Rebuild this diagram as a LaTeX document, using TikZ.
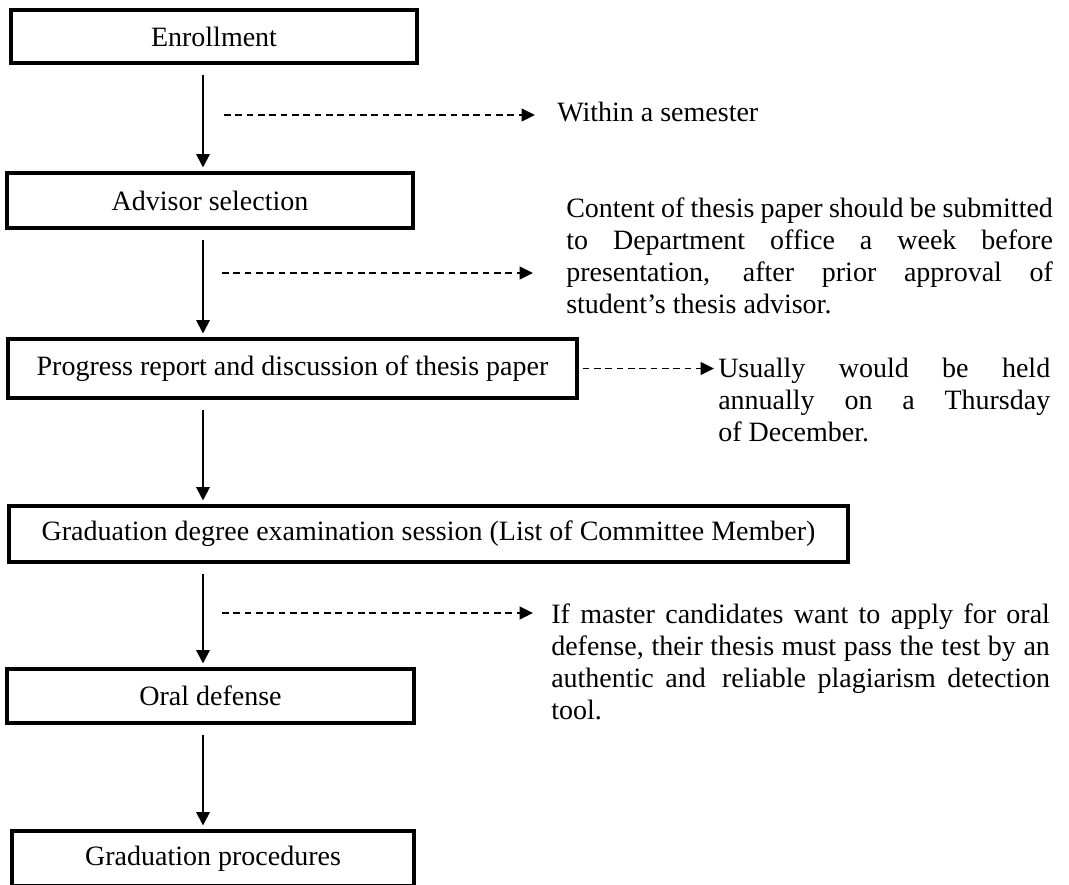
\documentclass[tikz,border=0pt]{standalone}
\usepackage{fontspec}
\setmainfont{Liberation Serif}
\usetikzlibrary{arrows.meta,calc}

\tikzset{
  stage/.style={draw, line width=2.3pt, inner sep=0pt, align=center},
  flow/.style={line width=1.5pt, -{Triangle[length=10pt,width=10pt]}},
  hint/.style={line width=1.4pt, dash pattern=on 5pt off 3.5pt, -{Triangle[length=10pt,width=9.5pt]}},
  remark/.style={inner sep=0pt, anchor=north west, align=justify},
}

\begin{document}
\begin{tikzpicture}[x=0.75pt, y=-0.75pt, font=\fontsize{21}{24}\selectfont]
\clip (0,0) rectangle (1069,884);
% the stages
\node[stage, minimum width=304.5pt, minimum height=39.75pt] (enroll) at (214,36.5) {Enrollment};
\node[stage, minimum width=304.5pt, minimum height=41.25pt] (advisor) at (210,200.5) {Advisor selection};
\node[stage, minimum width=426.75pt, minimum height=44.25pt] (progress) at (292.5,368.5) {Progress report and discussion of thesis paper};
\node[stage, minimum width=629.25pt, minimum height=42pt] (exam) at (428.5,534) {Graduation degree examination session (List of Committee Member)};
\node[stage, minimum width=305.25pt, minimum height=40.5pt] (oral) at (210.5,696) {Oral defense};
\node[stage, minimum width=301.5pt, minimum height=41.25pt] (finish) at (213,858.5) {Graduation procedures};
% notes on the right
\node[inner sep=0pt, anchor=base west] (within) at (557,122) {Within a semester};
\node[remark, text width=365pt] (content) at (566,194.6) {\strut Content of thesis paper should be submitted\linebreak to Department office a week before\linebreak presentation, after prior approval of\linebreak student's thesis advisor.};
\node[remark, text width=249pt] (usual) at (718,354.6) {\strut Usually would be held\linebreak annually on a Thursday\linebreak of December.};
\node[remark, text width=374pt] (plagiarism) at (551,600.6) {\strut If master candidates want to apply for oral\linebreak defense, their thesis must pass the test by an\linebreak authentic and\, reliable plagiarism detection\linebreak tool.};
% main flow
\coordinate (spine) at (203,0);
\foreach \a/\b in {enroll/advisor, advisor/progress, progress/exam, exam/oral, oral/finish}
  \draw[flow] ($(\a.south -| spine)+(0,-8pt)$) -- ($(\b.north -| spine)+(0,3pt)$);
% dashed hints
\coordinate (h1) at (224,115);
\coordinate (h2) at (222,273);
\coordinate (h4) at (222,613);
\draw[hint] (h1) -- ($(h1 -| within.west)+(-16.5pt,0)$);
\draw[hint] (h2) -- ($(h2 -| content.west)+(-24.75pt,0)$);
\draw[hint] ($(progress.east)+(3pt,0)$) -- ($(progress.east -| usual.west)+(-3pt,0)$);
\draw[hint] (h4) -- ($(h4 -| plagiarism.west)+(-13.5pt,0)$);
\end{tikzpicture}
\end{document}
